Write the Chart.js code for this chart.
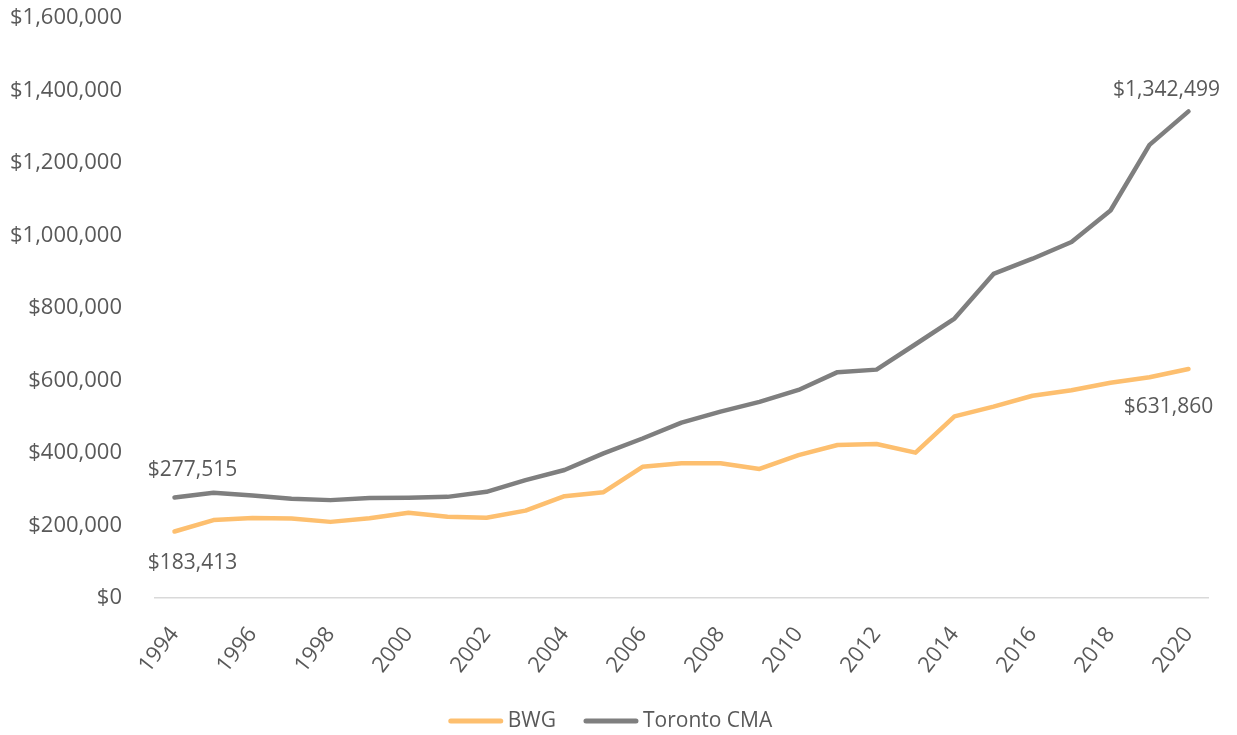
<!DOCTYPE html>
<html>
<head>
<meta charset="utf-8">
<title>Average home price, BWG vs Toronto CMA</title>
<script src="https://cdn.jsdelivr.net/npm/chart.js@4.4.1/dist/chart.umd.min.js"></script>
<style>
  body { margin: 0; background: #fff; }
  #wrap { width: 1237px; height: 735px; }
</style>
</head>
<body>
<div id="wrap"><canvas id="priceChart" width="1237" height="735"></canvas></div>
<script>
const years = [];
for (let y = 1994; y <= 2020; y++) years.push(String(y));

// average price per year
const bwgPrices = [
    183413, 215000, 221000, 219000, 210000, 220000, 235000, 224000, 221500,
    241000, 281000, 292000, 362000, 371500, 371500, 356000, 394000, 422000,
    425000, 401000, 501000, 528000, 558000, 573000, 594000, 609000, 631860
];
const torontoPrices = [
    277515, 290500, 283000, 274000, 270000, 276000, 276500, 279000, 293000,
    325000, 353000, 399000, 440000, 484000, 514000, 541000, 574000, 623000,
    630000, 700000, 771000, 894000, 936000, 982000, 1069000, 1250000, 1342499
];

const seriesNames = ["BWG", "Toronto CMA"];
const seriesColors = ["#FDBF6F", "#7F7F7F"];

const yTicks = [0, 200000, 400000, 600000, 800000, 1000000, 1200000, 1400000, 1600000];

const textColor = "#595959";
const fontFamily = "'Open Sans', 'Liberation Sans', sans-serif";

function money(v) {
    return "$" + Number(v).toLocaleString("en-US");
}

// value labels at the first and last point of each line
const endLabels = {
    id: "endLabels",
    afterDatasetsDraw(chart, args, opts) {
        const ctx = chart.ctx;
        ctx.save();
        ctx.font = "21px " + fontFamily;
        ctx.fillStyle = textColor;
        ctx.textAlign = "center";
        ctx.textBaseline = "middle";
        opts.items.forEach(item => {
            const pt = chart.getDatasetMeta(item.dataset).data[item.index];
            const value = chart.data.datasets[item.dataset].data[item.index];
            ctx.fillText(money(value), pt.x + item.dx, pt.y + item.dy);
        });
        ctx.restore();
    }
};

// simple line-sample legend centred under the plot
const lineLegend = {
    id: "lineLegend",
    afterDraw(chart, args, opts) {
        const ctx = chart.ctx;
        ctx.save();
        ctx.font = opts.fontSize + "px " + fontFamily;
        ctx.textBaseline = "middle";
        const items = chart.data.datasets.map(ds => ({
            text: ds.label,
            color: ds.borderColor,
            w: opts.sample + opts.gap + ctx.measureText(ds.label).width
        }));
        const total = items.reduce((s, it) => s + it.w, 0) + opts.spacing * (items.length - 1);
        let x = (chart.width - total) / 2 + opts.shift;
        const y = opts.y;
        items.forEach(it => {
            ctx.strokeStyle = it.color;
            ctx.lineWidth = 5;
            ctx.lineCap = "round";
            ctx.beginPath();
            ctx.moveTo(x + 2, y);
            ctx.lineTo(x + opts.sample - 2, y);
            ctx.stroke();
            ctx.fillStyle = textColor;
            ctx.fillText(it.text, x + opts.sample + opts.gap, y);
            x += it.w + opts.spacing;
        });
        ctx.restore();
    }
};

function noScalePadding(scale) {
    scale.paddingTop = 0;
    scale.paddingBottom = 0;
}

const ctx = document.getElementById("priceChart").getContext("2d");
const chart = new Chart(ctx, {
    type: "line",
    data: {
        labels: years,
        datasets: [
            {
                label: seriesNames[0],
                data: bwgPrices,
                borderColor: seriesColors[0],
                backgroundColor: seriesColors[0],
                borderWidth: 4.5,
                borderCapStyle: "round",
                borderJoinStyle: "round",
                pointRadius: 0,
                tension: 0
            },
            {
                label: seriesNames[1],
                data: torontoPrices,
                borderColor: seriesColors[1],
                backgroundColor: seriesColors[1],
                borderWidth: 4.5,
                borderCapStyle: "round",
                borderJoinStyle: "round",
                pointRadius: 0,
                tension: 0
            }
        ]
    },
    plugins: [endLabels, lineLegend],
    options: {
        responsive: false,
        animation: false,
        layout: {
            padding: { top: 18, right: 29, left: 0, bottom: 0 }
        },
        scales: {
            x: {
                offset: true,
                grid: { display: false },
                border: { display: true, color: "#D9D9D9", width: 1.5 },
                ticks: {
                    autoSkip: false,
                    minRotation: 52,
                    maxRotation: 52,
                    padding: 16,
                    color: textColor,
                    font: { family: fontFamily, size: 22 },
                    callback: function (val, i) {
                        return i % 2 === 0 ? years[i] : "";
                    }
                },
                afterFit(scale) {
                    scale.height = 137;
                    noScalePadding(scale);
                }
            },
            y: {
                min: 0,
                max: 1600000,
                grid: { display: false },
                border: { display: false },
                afterBuildTicks(scale) {
                    scale.ticks = yTicks.map(v => ({ value: v }));
                },
                ticks: {
                    padding: 25,
                    color: textColor,
                    font: { family: fontFamily, size: 22 },
                    callback: v => money(v)
                },
                afterFit(scale) {
                    scale.width = 155;
                    noScalePadding(scale);
                }
            }
        },
        plugins: {
            legend: { display: false },
            tooltip: { enabled: false },
            lineLegend: { y: 721, fontSize: 21, sample: 54, gap: 5, spacing: 28, shift: -8 },
            endLabels: {
                items: [
                    { dataset: 1, index: 0, dx: 18, dy: -27 },
                    { dataset: 0, index: 0, dx: 18, dy: 32 },
                    { dataset: 1, index: 26, dx: -22, dy: -21 },
                    { dataset: 0, index: 26, dx: -20, dy: 38 }
                ]
            }
        }
    }
});
</script>
</body>
</html>
